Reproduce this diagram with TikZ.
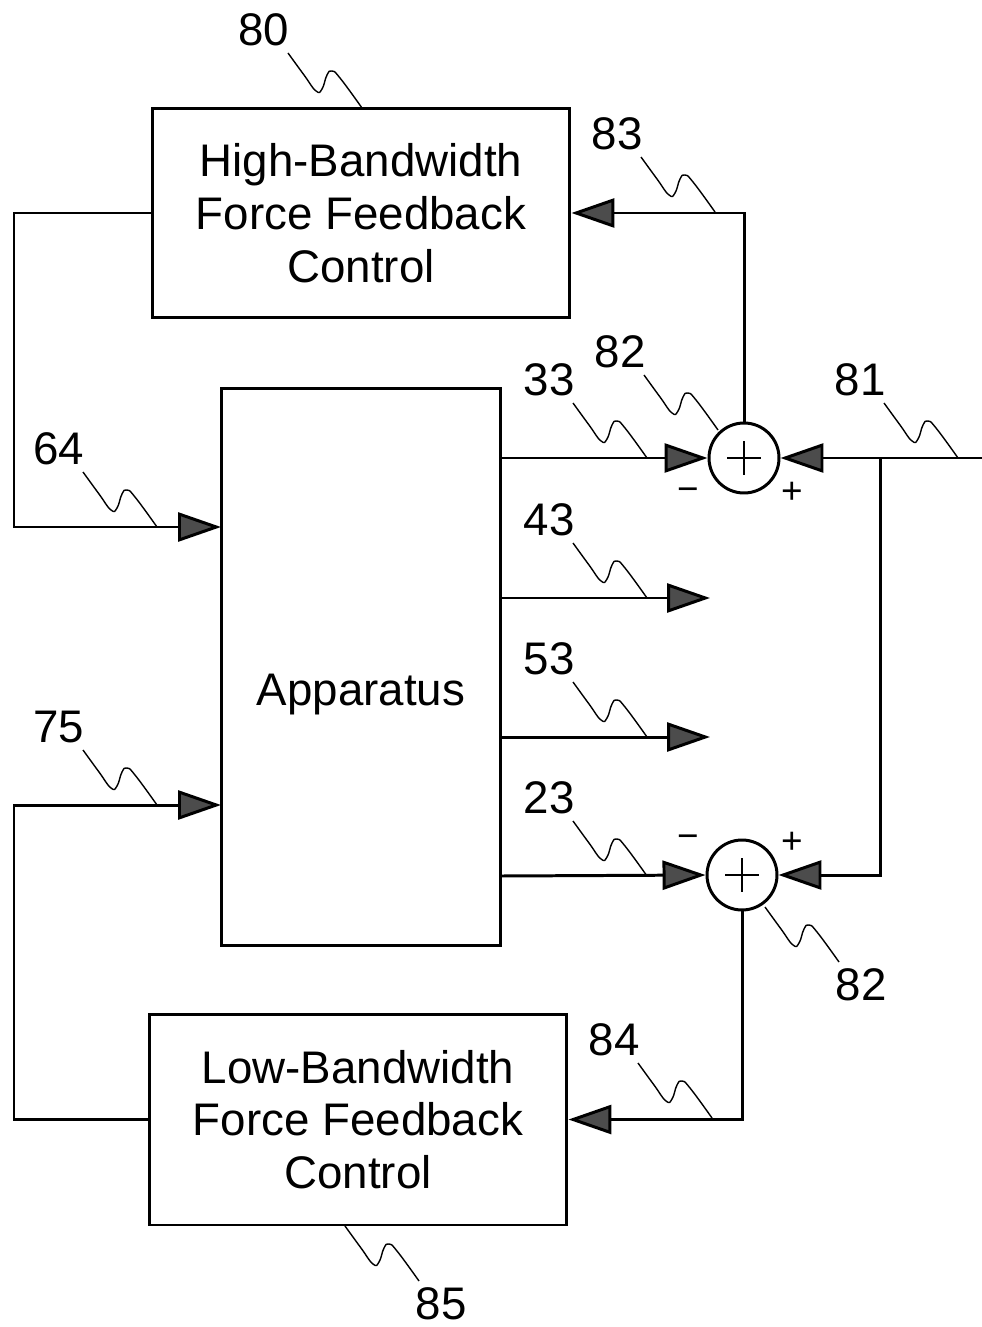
\documentclass[tikz,border=0pt]{standalone}
\usepackage{fontspec}
\setmainfont{Liberation Sans}
\usetikzlibrary{arrows.meta}
\tikzset{>={Triangle[length=0.86cm, width=0.58cm, fill=black!70]}}
\tikzset{
	wire/.style={line width=1.7pt},
	sig/.style={wire, ->},
	blk/.style={draw, line width=1.7pt, inner sep=0pt, font=\fontsize{26}{30}\selectfont, align=center},
	lbl/.style={font=\fontsize{26}{30}\selectfont},
	sgn/.style={font=\fontsize{21}{24}\selectfont},
	summer/.style={draw, circle, line width=1.7pt, minimum size=1.4cm, inner sep=0pt,
		path picture={\draw[line width=1.6pt] (path picture bounding box.center) ++(-17,0) -- ++(34,0)
			(path picture bounding box.center) ++(0,-17) -- ++(0,34);}},
	squiggle/.pic={\draw[line width=0.8pt] plot[smooth, tension=0.8] coordinates
		{(-74,-55) (-58,-33) (-46,-17) (-40,-19) (-35,-33) (-30,-37) (-22,-30) (0,0)};},
}
\def\leadup[#1](#2,#3)#4% Syntax: [name] (end on part) {number}
	{ \pic at (#2,#3) {squiggle}; \node[lbl] (#1) at ({#2-98},{#3-78}) {#4}; }
\def\leaddown[#1](#2,#3)#4% Syntax: [name] (start on part) {number}
	{ \pic at ({#2+74},{#3+55}) {squiggle}; \node[lbl] (#1) at ({#2+96},{#3+78}) {#4}; }

\begin{document}
\begin{tikzpicture}[x=0.02cm, y=-0.02cm]
		\useasboundingbox (0,0) rectangle (982,1327);
		\node[blk, minimum width=8.36cm, minimum height=4.2cm] (hbfc) at (361,213) {High-Bandwidth\\Force Feedback\\Control};
		\node[blk, minimum width=5.6cm, minimum height=11.16cm] (app) at (361,667) {};
		\node[lbl] (apptext) at (361,695) {Apparatus};
		\node[blk, minimum width=8.36cm, minimum height=4.22cm] (lbfc) at (358,1119.5) {Low-Bandwidth\\Force Feedback\\Control};
		\node[summer] (sum1) at (744,458) {};
		\node[summer] (sum2) at (742,875) {};
		\coordinate (in64) at (221,527);
		\coordinate (in75) at (221,805);
		\coordinate (o33) at (501,458);
		\coordinate (o43) at (501,598);
		\coordinate (e43) at (710,598);
		\coordinate (o53) at (501,737);
		\coordinate (e53) at (710,737);
		\coordinate (o23) at (501,876);
		\coordinate (in81) at (982,458);
		\coordinate (j81) at (880,458);
		\draw[sig] (hbfc.west) -- (14,213) -- (14,527) -- (in64);
		\draw[sig] (lbfc.west) -- (14,1119.5) |- (in75);
		\draw[sig] (o33) -- (sum1.west);
		\draw[sig] (o43) -- (e43);
		\draw[sig] (o53) -- (e53);
		\draw[sig] (o23) -- (sum2.west);
		\draw[sig] (in81) -- (sum1.east);
		\draw[sig] (j81) |- (sum2.east);
		\draw[sig] (sum1.north) |- (hbfc.east);
		\draw[sig] (sum2.south) |- (lbfc.east);
		\node[sgn] (m1) at (688,495) {−};
		\node[sgn] (p1) at (792,493) {+};
		\node[sgn] (m2) at (688,842) {−};
		\node[sgn] (p2) at (792,843) {+};
		\leadup[l80](362,108){80}
		\leadup[l83](715,212){83}
		\leadup[l82a](718,430){82}
		\leadup[l33](647,458){33}
		\leadup[l81](958,458){81}
		\leadup[l64](157,527){64}
		\leadup[l43](647,598){43}
		\leadup[l53](647,737){53}
		\leadup[l75](157,805){75}
		\leadup[l23](647,876){23}
		\leadup[l84](712,1118){84}
		\leaddown[l82b](765,907){82}
		\leaddown[l85](345,1226){85}
	\end{tikzpicture}
\end{document}
